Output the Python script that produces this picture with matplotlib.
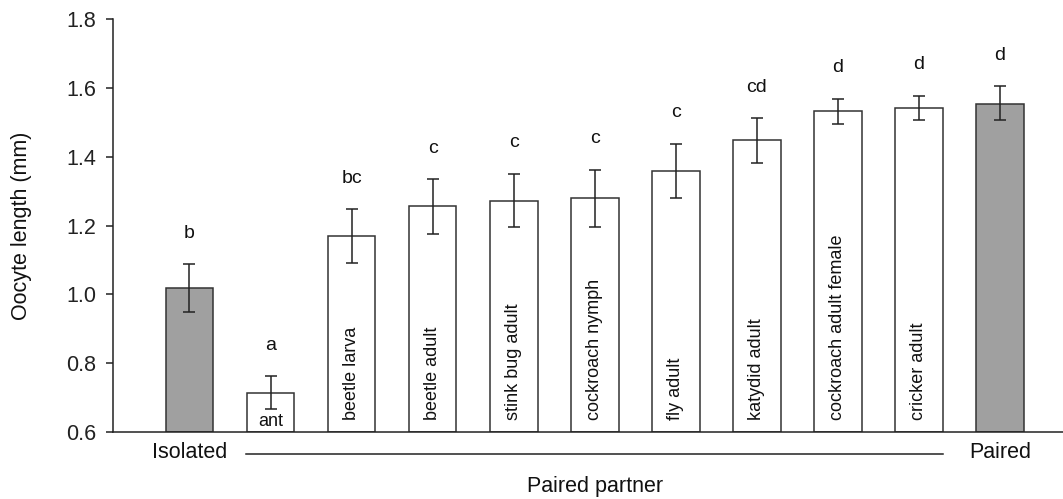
import matplotlib
matplotlib.use("Agg")
import matplotlib.pyplot as plt
from matplotlib.transforms import blended_transform_factory

plt.rcParams['font.family'] = ['Liberation Sans', 'DejaVu Sans']

# Data
groups = ["Isolated", "ant", "beetle larva", "beetle adult", "stink bug adult",
          "cockroach nymph", "fly adult", "katydid adult", "cockroach adult female",
          "cricker adult", "Paired"]
means = [1.017, 0.714, 1.169, 1.256, 1.272, 1.279, 1.359, 1.447, 1.534, 1.542, 1.553]
err_upper = [1.088, 0.763, 1.248, 1.335, 1.351, 1.362, 1.438, 1.511, 1.569, 1.577, 1.605]
err_lower = [0.949, 0.668, 1.092, 1.176, 1.196, 1.196, 1.279, 1.383, 1.495, 1.507, 1.507]
letters = ["b", "a", "bc", "c", "c", "c", "c", "cd", "d", "d", "d"]
is_control = [True, False, False, False, False, False, False, False, False, False, True]
yticks = [0.6, 0.8, 1.0, 1.2, 1.4, 1.6, 1.8]

fig = plt.figure(figsize=(10.63, 4.99), dpi=100)
ax = fig.add_axes([113/1063, 67/499, 1 - 113/1063, 413/499])

x = list(range(len(groups)))
colors = ['#a0a0a0' if c else 'white' for c in is_control]
ax.bar(x, [m - 0.6 for m in means], bottom=0.6, width=0.59, color=colors,
       edgecolor='#333333', linewidth=1.1, zorder=2)
yerr = [[m - l for m, l in zip(means, err_lower)], [u - m for m, u in zip(means, err_upper)]]
ax.errorbar(x, means, yerr=yerr, fmt='none', ecolor='#222222', elinewidth=1.1,
            capsize=4, capthick=1.1, zorder=3)

for xi, u, let in zip(x, err_upper, letters):
    ax.text(xi, u + 0.065, let, ha='center', va='bottom', fontsize=14, color='#111111')

for xi, g in zip(x, groups):
    if g in ("Isolated", "Paired"):
        continue
    if g == "ant":
        ax.text(xi, 0.63, g, ha='center', va='center', fontsize=13, color='#111111')
    else:
        ax.text(xi, 0.635, g, ha='center', va='bottom', rotation=90, fontsize=13,
                color='#111111')

ax.set_xlim(-0.944, 10.78)
ax.set_ylim(0.6, 1.8)
ax.set_yticks(yticks)
ax.set_yticklabels([f"{t:.1f}" for t in yticks])
ax.tick_params(axis='y', labelsize=15.5, length=5, width=1.1, pad=7, colors='#222222')
ax.tick_params(axis='x', bottom=False, labelbottom=False)
for s in ['top', 'right']:
    ax.spines[s].set_visible(False)
for s in ['left', 'bottom']:
    ax.spines[s].set_linewidth(1.1)
    ax.spines[s].set_color('#222222')

ax.set_ylabel("Oocyte length (mm)", fontsize=15.5, color='#111111', va='center')
ax.yaxis.set_label_coords(-0.096, 0.5)

trans = blended_transform_factory(ax.transData, ax.transAxes)
ax.text(x[0], -0.050, groups[0], transform=trans, ha='center', va='center', fontsize=15.5, color='#111111')
ax.text(x[-1], -0.050, groups[-1], transform=trans, ha='center', va='center', fontsize=15.5, color='#111111')
ax.plot([x[1] - 0.3, x[9] + 0.3], [-0.0525, -0.0525], transform=trans, color='#222222',
        linewidth=1.1, clip_on=False)
ax.text((x[0] + x[-1]) / 2, -0.1324, "Paired partner", transform=trans, ha='center',
        va='center', fontsize=15.5, color='#111111')

fig.savefig("out.png", dpi=100)
